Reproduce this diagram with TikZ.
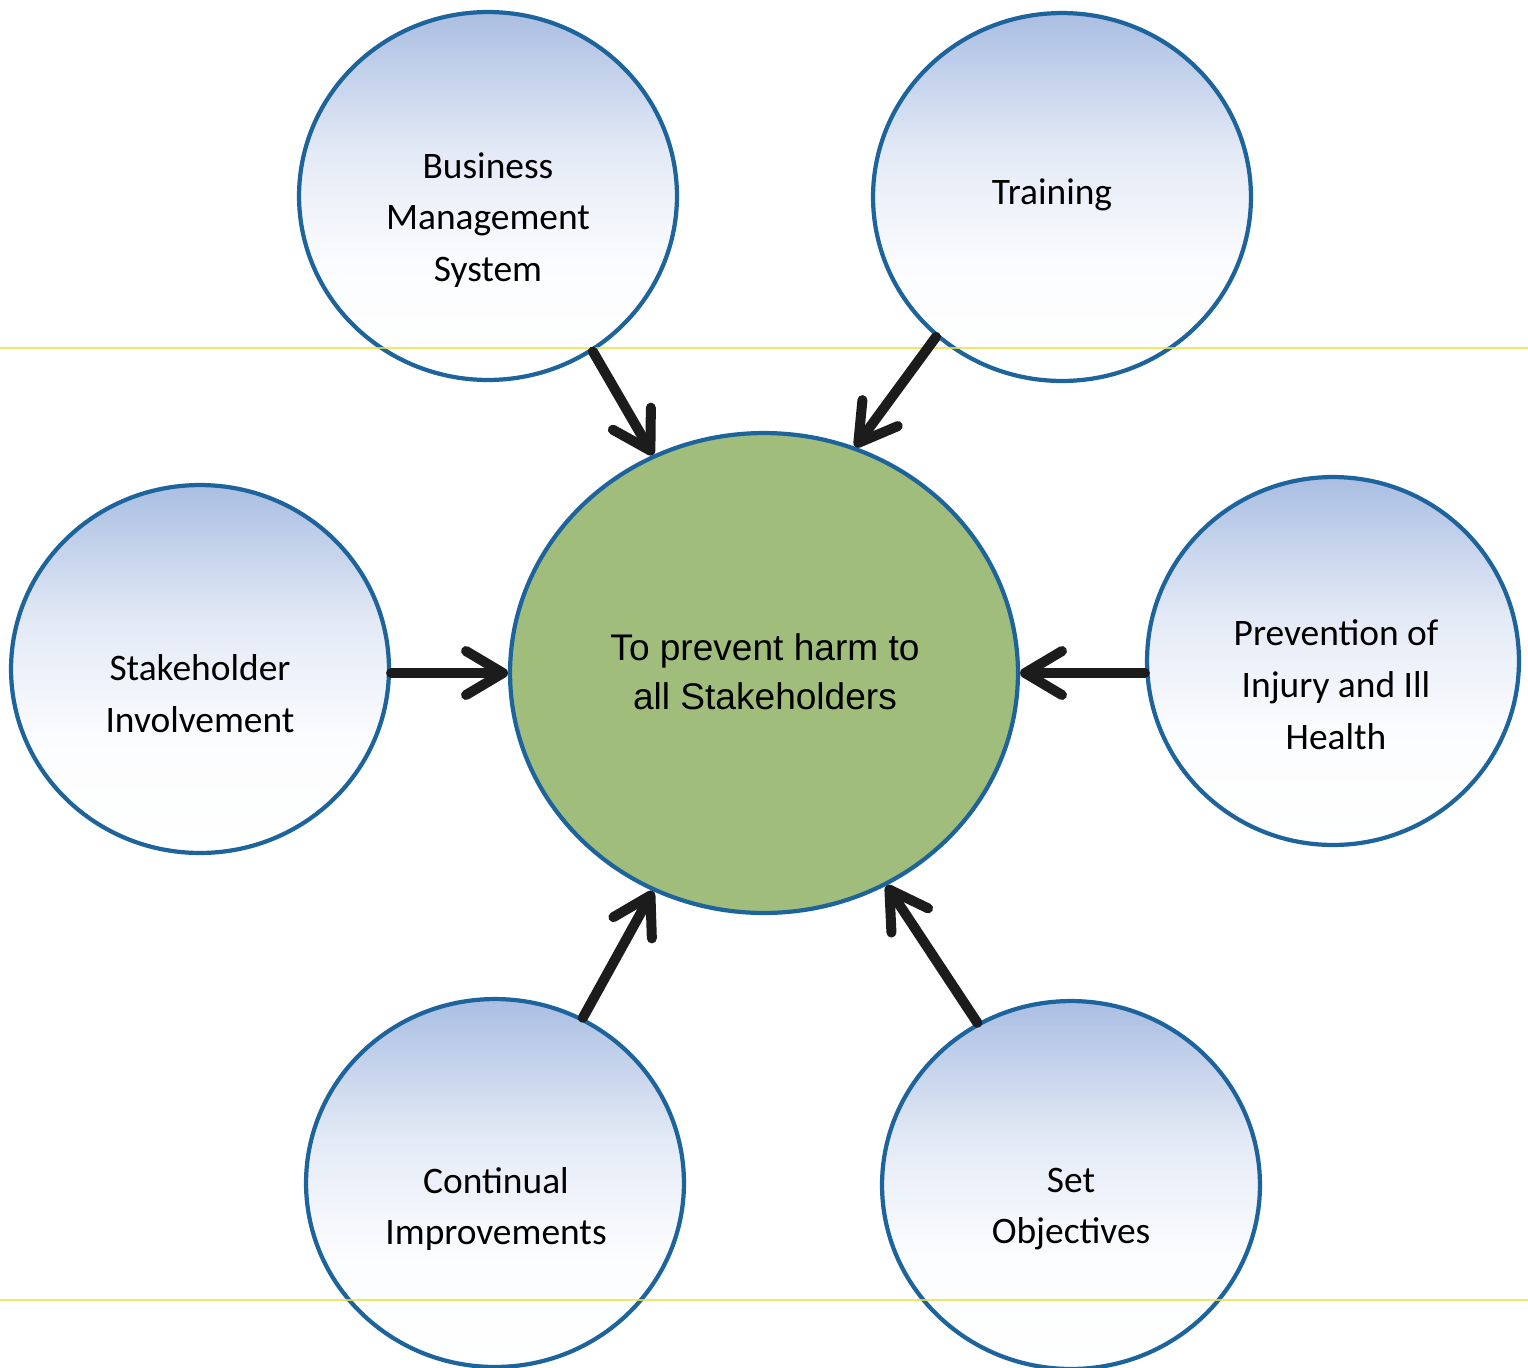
\documentclass[tikz,border=0pt]{standalone}
\usepackage{fontspec}
\setmainfont{Carlito}
\newfontfamily\arialfont{Liberation Sans}
\usetikzlibrary{shapes.geometric,arrows.meta}
\definecolor{rimblue}{RGB}{30,100,156}
\definecolor{fadeblue}{RGB}{170,190,226}
\definecolor{hubgreen}{RGB}{161,189,124}
\definecolor{scanyellow}{RGB}{236,224,70}
\definecolor{arrowblack}{RGB}{28,28,28}
\pgfdeclareverticalshading{circfade}{100bp}{color(0bp)=(white); color(25bp)=(white); color(40bp)=(white!96!fadeblue); color(56bp)=(white!68!fadeblue); color(75bp)=(fadeblue); color(100bp)=(fadeblue)}
\tikzset{
  outer/.style={ellipse, draw=rimblue, line width=2.4pt, shading=circfade, inner sep=0pt,
    minimum width=7.56cm, minimum height=7.36cm},
  hub/.style={ellipse, draw=rimblue, line width=2.4pt, fill=hubgreen, inner sep=0pt,
    minimum width=10.16cm, minimum height=9.6cm},
  label/.style={align=center, font=\fontsize{21.3pt}{29.5pt}\selectfont, text=black},
  hublabel/.style={align=center, font=\arialfont\fontsize{21.1pt}{27.8pt}\selectfont, text=black},
  feed/.style={draw=arrowblack, line width=5.7pt, line cap=round,
    -{Straight Barb[length=21pt, width=25pt, round]}},
  scanline/.style={draw=scanyellow, line width=1.1pt, opacity=0.8}
}
\begin{document}
\begin{tikzpicture}[x=0.02cm, y=-0.02cm]
\useasboundingbox (0,0) rectangle (1528,1367);
\clip (0,0) rectangle (1528,1367);
\fill[white] (0,0) rectangle (1528,1367);

\node[outer] (bms) at (488,196) {};
\node[outer] (train) at (1062,197) {};
\node[outer] (stake) at (200,669) {};
\node[hub] (hub) at (764,673) {};
\node[outer, minimum width=7.44cm] (prev) at (1333,661) {};
\node[outer] (cont) at (495,1183) {};
\node[outer] (obj) at (1071,1185) {};

\coordinate (ylA) at (0,348);
\coordinate (ylB) at (1528,348);
\coordinate (ylC) at (0,1300);
\coordinate (ylD) at (1528,1300);
\draw[scanline] (ylA) -- (ylB);
\draw[scanline] (ylC) -- (ylD);

\node[label] (tbms) at (488,220) {Business\\Management\\System};
\node[label] (ttrain) at (1052,195) {Training};
\node[label] (tstake) at (200,694) {Stakeholder\\Involvement};
\node[hublabel] (thub) at (765,672) {To prevent harm to\\all Stakeholders};
\node[label] (tprev) at (1336,685) {Prevention of\\Injury and Ill\\Health};
\node[label] (tcont) at (496,1209) {Continual\\Improvements};
\node[label] (tobj) at (1071,1209) {Set\\Objectives};

\draw[feed] (bms.-56) -- (hub.117);
\draw[feed] (train.-132) -- (hub.68);
\draw[feed] (stake.east |- hub.center) -- (hub.west);
\draw[feed] (prev.west |- hub.center) -- (hub.east);
\draw[feed] (cont.62) -- (hub.-117);
\draw[feed] (obj.120) -- (hub.-60);
\end{tikzpicture}
\end{document}
